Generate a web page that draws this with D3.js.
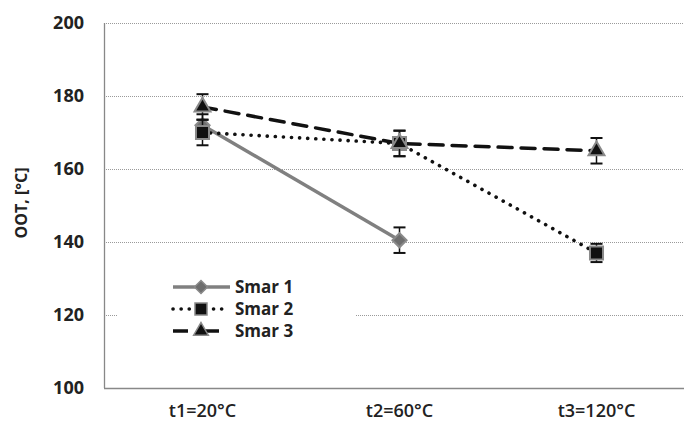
<!DOCTYPE html>
<html>
<head>
<meta charset="utf-8">
<script src="https://cdn.jsdelivr.net/npm/d3@7"></script>
<style>
  body { margin: 0; background: #fff; }
  text { font-family: "Open Sans", Lato, sans-serif; }
</style>
</head>
<body>
<div id="chart"></div>
<script>
// chart data
const categories = ["t1=20°C", "t2=60°C", "t3=120°C"];
const seriesNames = ["Smar 1", "Smar 2", "Smar 3"];
const smar1 = [172, 140.5, null];
const smar2 = [170, 167, 137];
const smar3 = [177, 167, 165];
const err1 = [3, 3.5, null];
const err2 = [3.5, 3.5, 2.5];
const err3 = [3.5, 3.5, 3.5];
const yTicks = [100, 120, 140, 160, 180, 200];

const width = 684, height = 423;
const plotLeft = 104, plotTop = 23, plotBottom = 388;

const svg = d3.select("#chart").append("svg")
  .attr("width", width)
  .attr("height", height);

const x = d3.scaleBand()
  .domain(categories)
  .range([plotLeft, plotLeft + 3 * 197]);

const y = d3.scaleLinear()
  .domain([100, 200])
  .range([plotBottom, plotTop]);

// gridlines
svg.append("g").selectAll("line")
  .data(yTicks.slice(1))
  .enter()
  .append("line")
  .attr("x1", plotLeft).attr("x2", width)
  .attr("y1", d => Math.round(y(d)) + 0.5)
  .attr("y2", d => Math.round(y(d)) + 0.5)
  .attr("stroke", "#9a9a9a")
  .attr("stroke-width", 1)
  .attr("stroke-dasharray", "1,1");

// axis lines
svg.append("line")
  .attr("x1", plotLeft + 0.5).attr("x2", plotLeft + 0.5)
  .attr("y1", plotTop).attr("y2", plotBottom)
  .attr("stroke", "#888").attr("stroke-width", 1.3);
svg.append("line")
  .attr("x1", plotLeft).attr("x2", width)
  .attr("y1", plotBottom + 0.5).attr("y2", plotBottom + 0.5)
  .attr("stroke", "#888").attr("stroke-width", 1.3);

// y tick labels
svg.append("g").selectAll("text")
  .data(yTicks)
  .enter()
  .append("text")
  .attr("x", 84)
  .attr("y", d => y(d))
  .attr("dy", "0.36em")
  .attr("text-anchor", "end")
  .style("font-size", "18px")
  .style("font-weight", "bold")
  .style("fill", "#222")
  .text(d => d);

// x labels
svg.append("g").selectAll("text")
  .data(categories)
  .enter()
  .append("text")
  .attr("x", d => x(d) + x.bandwidth() / 2)
  .attr("y", 417)
  .attr("text-anchor", "middle")
  .style("font-size", "18px")
  .style("font-weight", "600")
  .style("fill", "#222")
  .text(d => d);

// y axis title
svg.append("text")
  .attr("transform", "translate(27,203) rotate(-90)")
  .attr("text-anchor", "middle")
  .style("font-size", "16px")
  .style("font-weight", "bold")
  .style("fill", "#222")
  .text("OOT, [°C]");

const series = [
  { name: seriesNames[0], values: smar1, errs: err1, color: "#808080", width: 3.5, dash: null, cap: "butt", marker: "diamond", fill: "#6e6e6e" },
  { name: seriesNames[1], values: smar2, errs: err2, color: "#111", width: 3.6, dash: "0.1,8", cap: "round", marker: "square", fill: "#111" },
  { name: seriesNames[2], values: smar3, errs: err3, color: "#111", width: 3.5, dash: "14,9", cap: "round", marker: "triangle", fill: "#111" }
];

// diamond is drawn as a square turned 45 degrees
const symbolType = {
  diamond: d3.symbolSquare,
  square: d3.symbolSquare,
  triangle: d3.symbolTriangle
};
const symbolSize = { diamond: 100, square: 170, triangle: 110 };
const symbolRot = { diamond: 45, square: 0, triangle: 0 };

const line = d3.line()
  .defined(d => d.v != null)
  .x(d => x(d.c) + x.bandwidth() / 2)
  .y(d => y(d.v));

// lines
series.forEach(s => {
  const pts = categories.map((c, i) => ({ c: c, v: s.values[i] }));
  svg.append("path")
    .datum(pts)
    .attr("d", line)
    .attr("fill", "none")
    .attr("stroke", s.color)
    .attr("stroke-width", s.width)
    .attr("stroke-linecap", s.cap)
    .attr("stroke-dasharray", s.dash);
});

// error bars and markers
series.forEach(s => {
  const pts = categories.map((c, i) => ({ c: c, v: s.values[i], e: s.errs[i] }))
    .filter(d => d.v != null);
  const g = svg.append("g");
  pts.forEach(d => {
    const cx = x(d.c) + x.bandwidth() / 2;
    g.append("line")
      .attr("x1", cx).attr("x2", cx)
      .attr("y1", y(d.v + d.e)).attr("y2", y(d.v - d.e))
      .attr("stroke", "#111").attr("stroke-width", 1.5);
    [d.v + d.e, d.v - d.e].forEach(v => {
      g.append("line")
        .attr("x1", cx - 6).attr("x2", cx + 6)
        .attr("y1", y(v)).attr("y2", y(v))
        .attr("stroke", "#111").attr("stroke-width", 2);
    });
    g.append("path")
      .attr("d", d3.symbol().type(symbolType[s.marker]).size(symbolSize[s.marker])())
      .attr("transform", `translate(${cx},${y(d.v)}) rotate(${symbolRot[s.marker]})`)
      .attr("fill", s.fill)
      .attr("stroke", "#8a8a8a")
      .attr("stroke-width", 2);
  });
});

// legend
const legend = svg.append("g");
legend.append("rect")
  .attr("x", 117).attr("y", 270)
  .attr("width", 238).attr("height", 78)
  .attr("fill", "#fff");

const legendDash = ["none", "0.1,8", "15,16,15"];
const legendEnd = [230, 226, 219];

series.forEach((s, i) => {
  const ly = 287 + i * 22;
  const row = legend.append("g");
  row.append("line")
    .attr("x1", 173).attr("x2", legendEnd[i])
    .attr("y1", ly).attr("y2", ly)
    .attr("stroke", s.color)
    .attr("stroke-width", s.width)
    .attr("stroke-linecap", s.marker === "triangle" ? "butt" : s.cap)
    .attr("stroke-dasharray", legendDash[i]);
  row.append("path")
    .attr("d", d3.symbol().type(symbolType[s.marker]).size(symbolSize[s.marker] * 0.85)())
    .attr("transform", `translate(201,${ly}) rotate(${symbolRot[s.marker]})`)
    .attr("fill", s.fill)
    .attr("stroke", "#8a8a8a")
    .attr("stroke-width", 1.5);
  row.append("text")
    .attr("x", 235)
    .attr("y", ly)
    .attr("dy", "0.36em")
    .style("font-size", "17px")
    .style("font-weight", "bold")
    .style("fill", "#222")
    .text(s.name);
});
</script>
</body>
</html>
